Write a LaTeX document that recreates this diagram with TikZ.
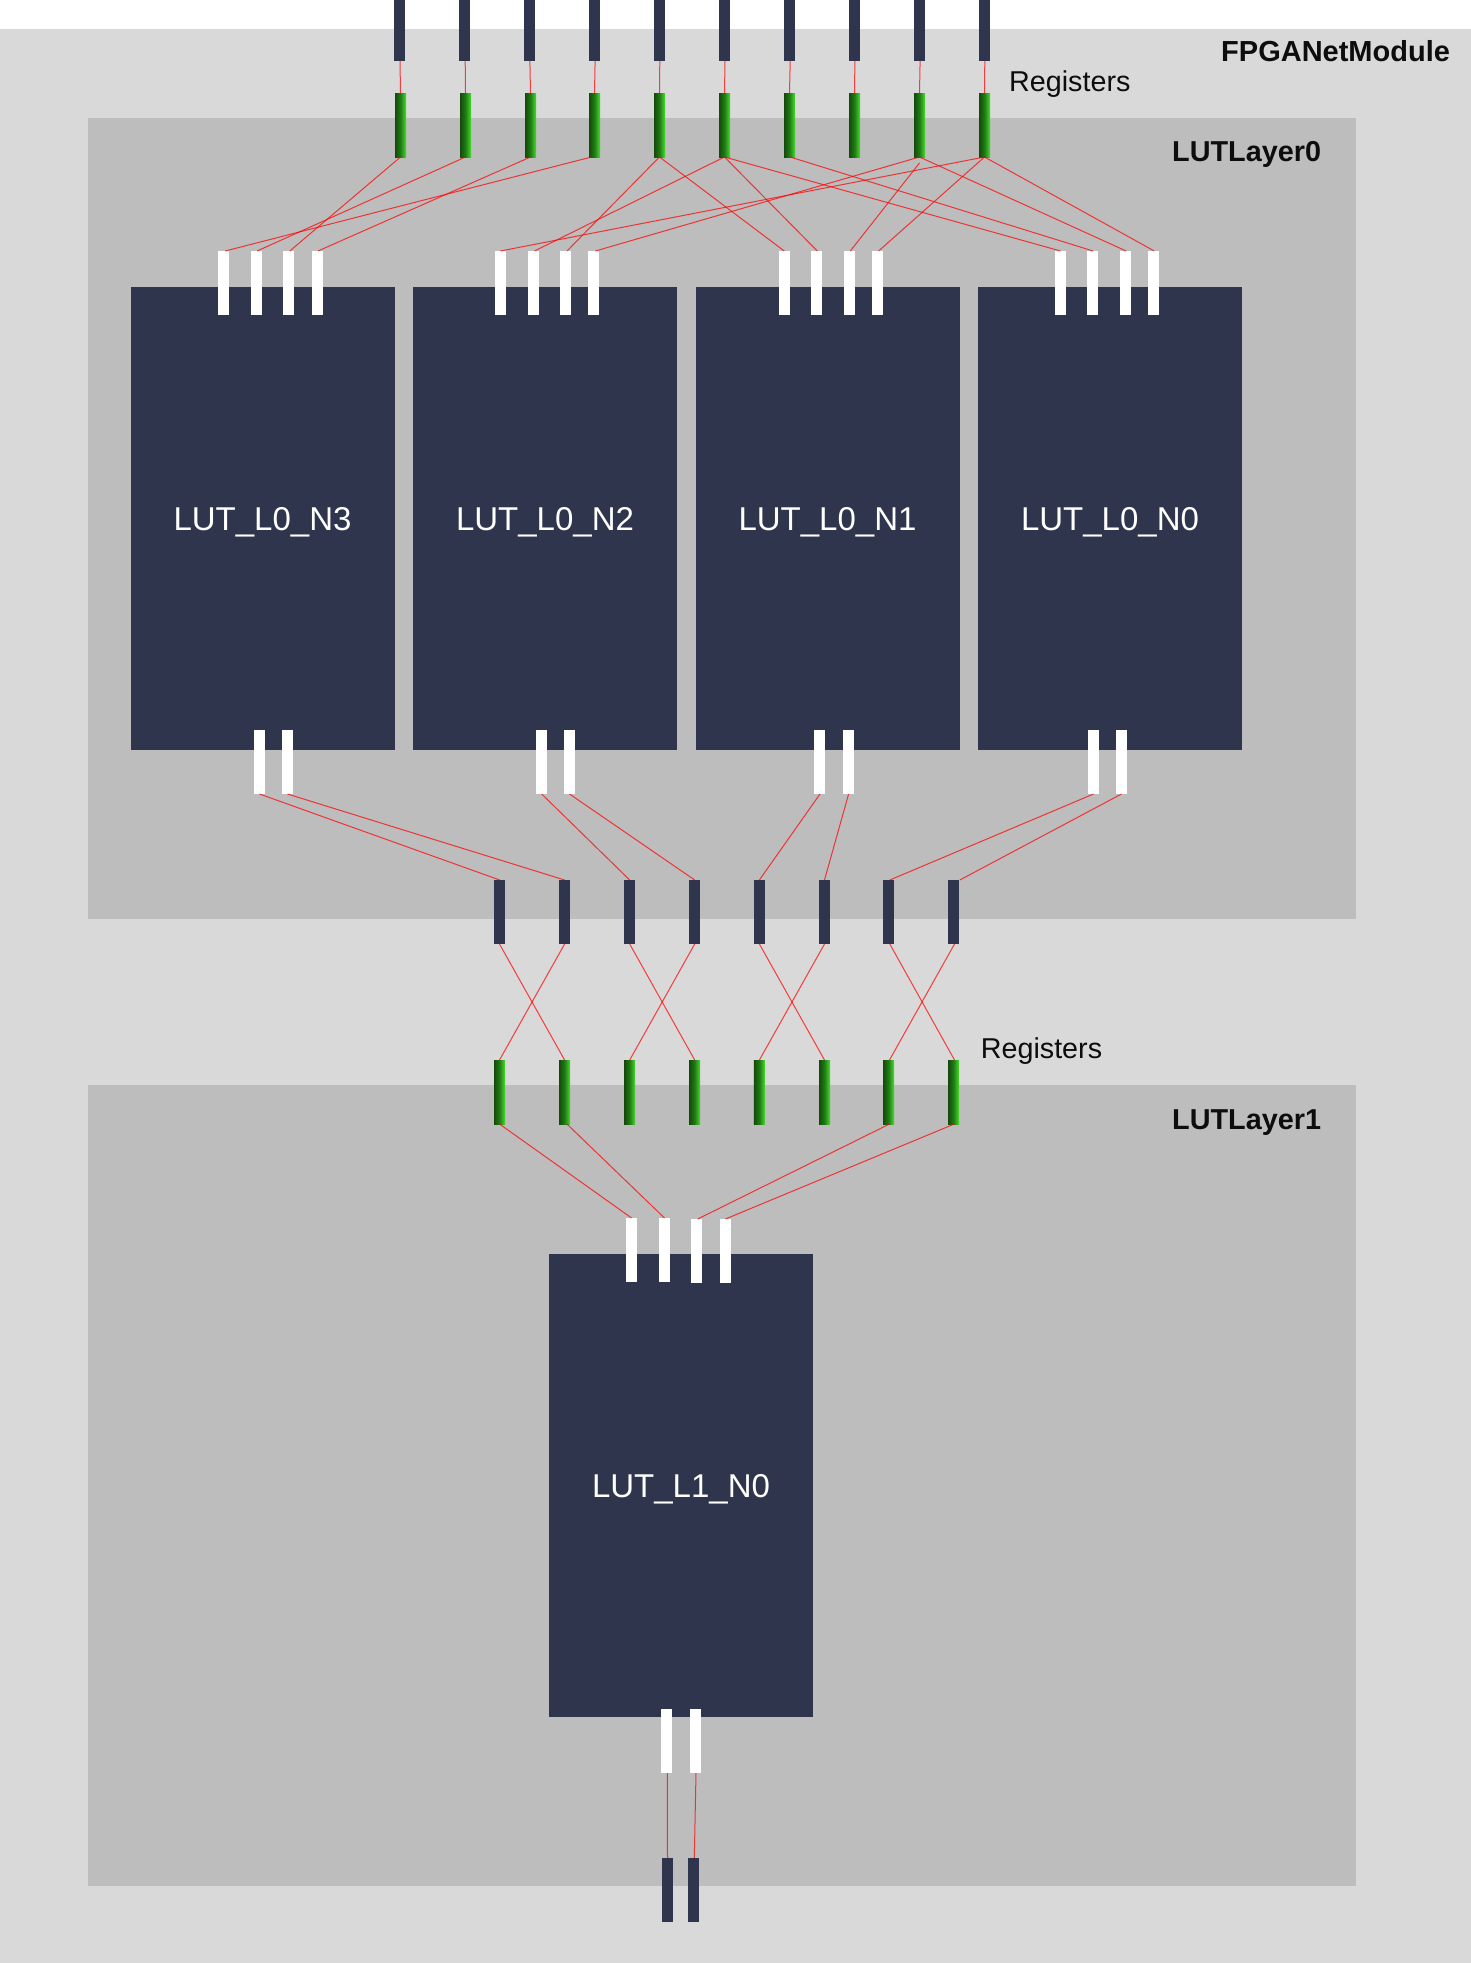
\documentclass[tikz,border=0pt]{standalone}
\usepackage{fontspec}
\setmainfont{Liberation Sans}
\definecolor{outerbg}{HTML}{D9D9D9}
\definecolor{layerbg}{HTML}{BDBDBD}
\definecolor{lutblue}{HTML}{2F354C}
\definecolor{regdark}{HTML}{154A0C}
\definecolor{regmid}{HTML}{1F7D14}
\definecolor{regbright}{HTML}{48DC2C}
\definecolor{ink}{HTML}{0D0D0D}
\tikzset{
  plate/.style={rectangle,inner sep=0pt,outer sep=0pt,draw=none},
  pin/.style={plate,minimum width=11pt,minimum height=64pt},
  darkpin/.style={pin,fill=lutblue},
  whitepin/.style={pin,fill=white},
  regpin/.style={pin,left color=regdark,right color=regbright,middle color=regmid},
  lutbox/.style={plate,fill=lutblue,minimum width=264pt,minimum height=463pt,text=white,text height=24pt,text depth=0pt,font=\fontsize{33}{36}\selectfont},
  titletext/.style={anchor=base west,inner sep=0pt,text=ink,font=\fontsize{28.8}{32}\selectfont\bfseries},
  regtext/.style={anchor=base west,inner sep=0pt,text=ink,font=\fontsize{28.7}{32}\selectfont},
  wire/.style={draw=red,draw opacity=.72,line width=1pt}
}
\newcommand{\wire}[4]{\draw[wire] ([xshift=#2pt]#1.south) -- ([xshift=#4pt]#3.north);}
\begin{document}
\begin{tikzpicture}[x=1pt,y=-1pt]
\useasboundingbox (0,0) rectangle (1471,1963);
\fill[white] (0,0) rectangle (1471,1963);
% backgrounds
\node[plate,fill=outerbg,minimum width=1471pt,minimum height=1934pt] (module) at (735.5,996) {};
\node[plate,fill=layerbg,minimum width=1268pt,minimum height=801pt] (layer0) at (722,518.5) {};
\node[plate,fill=layerbg,minimum width=1268pt,minimum height=801pt] (layer1) at (722,1485.5) {};
% LUTs
\node[lutbox] (n3) at (262.5,518.5) {LUT\_L0\_N3};
\node[lutbox] (n2) at (545,518.5) {LUT\_L0\_N2};
\node[lutbox] (n1) at (827.5,518.5) {LUT\_L0\_N1};
\node[lutbox] (n0) at (1110,518.5) {LUT\_L0\_N0};
\node[lutbox] (m0) at (681,1485.5) {LUT\_L1\_N0};
% top inputs and registers
\foreach \i/\x in {0/399.5,1/464.7,2/529.4,3/594.6,4/659.3,5/724.5,6/789.7,7/854.4,8/919.6,9/984.3}
  \node[darkpin,minimum height=61pt] (t\i) at (\x,30.5) {};
\foreach \i/\x in {0/400.5,1/465.5,2/530.5,3/594.5,4/659.5,5/724.5,6/789.5,7/854.5,8/919.5,9/984.5}
  \node[regpin] (g\i) at (\x,125) {};
% LUT input pins
\foreach \i/\x in {0/223.5,1/256.7,2/288.5,3/317.5}
  \node[whitepin] (a\i) at (\x,283) {};
\foreach \i/\x in {0/500.4,1/533.7,2/565.5,3/593.4}
  \node[whitepin] (b\i) at (\x,283) {};
\foreach \i/\x in {0/784.3,1/816.5,2/849.5,3/877.6}
  \node[whitepin] (c\i) at (\x,283) {};
\foreach \i/\x in {0/1060.5,1/1092.7,2/1125.7,3/1153.5}
  \node[whitepin] (d\i) at (\x,283) {};
% LUT output pins
\foreach \i/\x in {0/259.5,1/287.5}
  \node[whitepin] (ao\i) at (\x,762) {};
\foreach \i/\x in {0/541.7,1/569.5}
  \node[whitepin] (bo\i) at (\x,762) {};
\foreach \i/\x in {0/819.5,1/848.6}
  \node[whitepin] (co\i) at (\x,762) {};
\foreach \i/\x in {0/1093.5,1/1121.5}
  \node[whitepin] (do\i) at (\x,762) {};
% layer output pins and second register row
\foreach \i/\x in {0/499.5,1/564.6,2/629.7,3/694.7,4/759.4,5/824.5,6/888.5,7/953.5}{
  \node[darkpin] (p\i) at (\x,912) {};
  \node[regpin] (r\i) at (\x,1092) {};
}
% LUT_L1 pins
\node[whitepin] (e0) at (631.6,1250) {};
\node[whitepin] (e1) at (664.5,1250) {};
\node[whitepin] (e2) at (696.7,1251) {};
\node[whitepin] (e3) at (725.4,1251) {};
\node[whitepin] (eo0) at (666.5,1741) {};
\node[whitepin] (eo1) at (695.5,1741) {};
\node[darkpin] (z0) at (667.5,1890) {};
\node[darkpin] (z1) at (693.5,1890) {};
% wires
\foreach \i in {0,...,9} {\wire{t\i}{.5}{g\i}{0}}
\wire{g0}{0}{a2}{1.3}
\wire{g1}{0}{a1}{.4}
\wire{g2}{0}{a3}{.5}
\wire{g3}{-3}{a0}{1.7}
\wire{g4}{0}{b2}{1.5}
\wire{g5}{0}{b1}{.8}
\wire{g8}{0}{b3}{2}
\wire{g9}{0}{b0}{0}
\wire{g4}{0}{c0}{0}
\wire{g5}{0}{c1}{.8}
\draw[wire] ([yshift=-6pt]g8.south) -- ([xshift=.8pt]c2.north);
\wire{g9}{0}{c3}{1}
\wire{g5}{0}{d0}{0}
\wire{g6}{.6}{d1}{.4}
\wire{g8}{0}{d2}{.4}
\wire{g9}{0}{d3}{.8}
\wire{ao0}{0}{p0}{.2}
\wire{ao1}{0}{p1}{0}
\wire{bo0}{0}{p2}{0}
\wire{bo1}{0}{p3}{0}
\wire{co0}{.5}{p4}{0}
\wire{co1}{0}{p5}{0}
\wire{do0}{0}{p6}{1.3}
\wire{do1}{0}{p7}{6.3}
\wire{p0}{0}{r1}{0}
\wire{p1}{0}{r0}{0}
\wire{p2}{0}{r3}{0}
\wire{p3}{0}{r2}{0}
\wire{p4}{0}{r5}{0}
\wire{p5}{0}{r4}{0}
\wire{p6}{1.3}{r7}{1}
\wire{p7}{1}{r6}{1}
\wire{r0}{0}{e0}{0}
\wire{r1}{2.3}{e1}{0}
\wire{r6}{1}{e2}{1}
\wire{r7}{.8}{e3}{0}
\wire{eo0}{.8}{z0}{0}
\wire{eo1}{.5}{z1}{.8}
% labels
\node[titletext,font=\fontsize{29}{32}\selectfont\bfseries] (lblmodule) at (1221,61) {FPGANetModule};
\node[titletext] (lbllayer0) at (1172,161) {LUTLayer0};
\node[titletext] (lbllayer1) at (1172,1129) {LUTLayer1};
\node[regtext] (lblreg0) at (1009,91) {Registers};
\node[regtext] (lblreg1) at (980.7,1058.5) {Registers};
\end{tikzpicture}
\end{document}
